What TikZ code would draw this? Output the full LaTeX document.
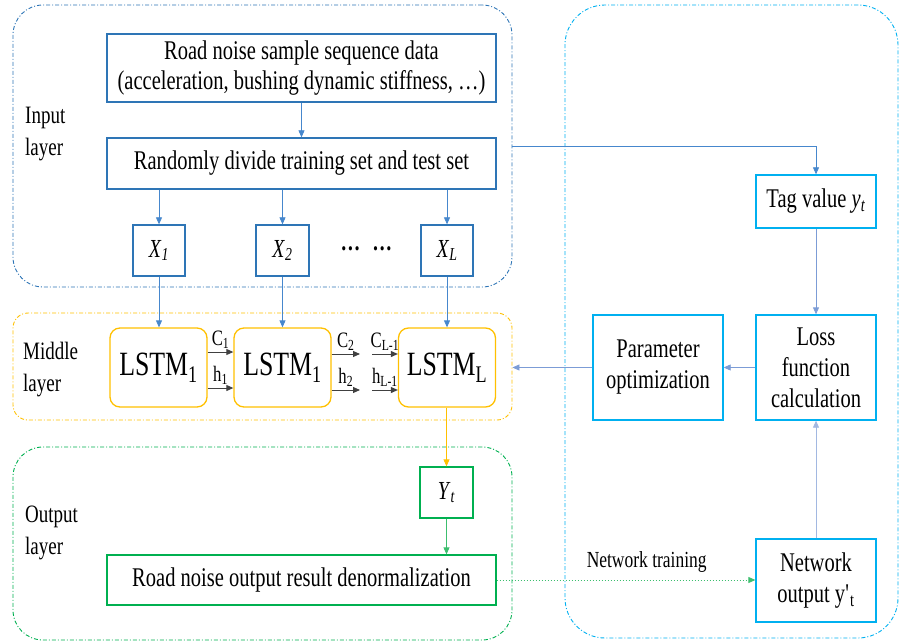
\documentclass[tikz,border=0pt]{standalone}
\usepackage{fontspec}
\setmainfont{Liberation Serif}[FakeStretch=0.76]
\usetikzlibrary{arrows.meta}

\definecolor{inblue}{RGB}{46,117,182}
\definecolor{arblue}{RGB}{70,135,205}
\definecolor{rtblue}{RGB}{68,114,196}
\definecolor{skyb}{RGB}{0,176,240}
\definecolor{amber}{RGB}{255,192,0}
\definecolor{leaf}{RGB}{0,176,80}
\definecolor{leaflt}{RGB}{60,190,110}

\newcommand\boxfont{\fontsize{27}{30}\selectfont}
\newcommand\lblfont{\fontsize{25}{32}\selectfont}

\tikzset{
  x=1pt, y=-1pt,
  tip/.style={-{Triangle[length=7pt,width=6pt]}},
  layerbox/.style={draw, rectangle, line width=0.9pt,
    dash pattern=on 4pt off 2pt on 1pt off 2pt},
  inbox/.style={draw=inblue, line width=1.3pt, rectangle, inner sep=0pt,
    align=center, font=\boxfont},
  cellbox/.style={draw=amber, line width=1.3pt, rectangle, rounded corners=10pt,
    inner sep=0pt, minimum width=97pt, minimum height=79pt,
    font=\fontsize{34}{36}\selectfont},
  outbox/.style={draw=leaf, line width=1.3pt, rectangle, inner sep=0pt,
    align=center, font=\boxfont},
  rtbox/.style={draw=skyb, line width=1.3pt, rectangle, inner sep=0pt,
    align=center, font=\fontsize{27}{31}\selectfont, minimum width=120pt},
  lbl/.style={align=left, anchor=west, font=\lblfont, inner sep=0pt},
  flow/.style={draw=arblue, line width=0.8pt, tip},
  state/.style={draw=black!75, line width=0.9pt, tip},
  small/.style={font=\fontsize{22}{24}\selectfont, inner sep=0pt},
}

\begin{document}
\begin{tikzpicture}
\useasboundingbox (0,0) rectangle (904,644);

% layer frames
\node[layerbox, draw=inblue, rounded corners=30pt, minimum width=499pt, minimum height=282pt] (inlayer) at (262.5,146) {};
\node[layerbox, draw=amber, rounded corners=15pt, minimum width=499pt, minimum height=107pt] (midlayer) at (262.5,366.5) {};
\node[layerbox, draw=leaf, rounded corners=30pt, minimum width=499pt, minimum height=193pt] (outlayer) at (262.5,543.5) {};
\node[layerbox, draw=skyb, rounded corners=40pt, minimum width=333pt, minimum height=633pt] (trainlayer) at (731.5,321.5) {};

% layer captions
\node[lbl] (inlbl) at (25,134) {Input\\layer};
\node[lbl] (midlbl) at (23,370) {Middle\\layer};
\node[lbl] (outlbl) at (25,533) {Output\\layer};

% input layer
\node[inbox, minimum width=389pt, minimum height=68pt] (road) at (301.5,68)
  {Road noise sample sequence data\\(acceleration, bushing dynamic stiffness, …)};
\node[inbox, minimum width=389pt, minimum height=51pt] (divide) at (301.5,163.5)
  {Randomly divide training set and test set};
\node[inbox, minimum width=52pt, minimum height=51pt, font=\fontsize{26}{28}\selectfont] (x1) at (159,250.5) {\textit{X}\textsubscript{\textit{1}}};
\node[inbox, minimum width=53pt, minimum height=51pt, font=\fontsize{26}{28}\selectfont] (x2) at (282.5,250.5) {\textit{X}\textsubscript{\textit{2}}};
\node[inbox, minimum width=52pt, minimum height=51pt, font=\fontsize{26}{28}\selectfont] (xl) at (447,250.5) {\textit{X}\textsubscript{\textit{L}}};
\node[font=\fontsize{26}{28}\selectfont\bfseries, inner sep=0pt] (dots) at (366.5,249) {…\hspace{12pt}…};

% middle layer
\node[cellbox] (c1) at (158.5,367.5) {LSTM\textsubscript{1}};
\node[cellbox] (c2) at (282.5,367.5) {LSTM\textsubscript{1}};
\node[cellbox] (cl) at (447,367.5) {LSTM\textsubscript{L}};

% output layer
\node[outbox, minimum width=53pt, minimum height=51pt, font=\fontsize{26}{28}\selectfont] (yt) at (446.5,492.5) {\textit{Y}\textsubscript{\textit{t}}};
\node[outbox, minimum width=389pt, minimum height=50pt] (denorm) at (301.5,580)
  {Road noise output result denormalization};

% training loop
\node[rtbox, minimum height=53pt] (tag) at (816,201.5) {Tag value \textit{y}\textsubscript{\textit{t}}};
\node[rtbox, minimum height=105pt] (loss) at (816,367.5) {Loss\\function\\calculation};
\node[rtbox, minimum width=130pt, minimum height=105pt] (param) at (658,367.5) {Parameter\\optimization};
\node[rtbox, minimum height=83pt] (netout) at (816,580.5) {Network\\output y\textquotesingle\textsubscript{t}};

% input-layer flow
\draw[flow] (road) -- (divide);
\foreach \n in {x1,x2,xl} {
  \draw[flow] (divide.south -| \n.north) -- (\n.north);
  \draw[flow] (\n.south) -- (\n.south |- c1.north);
}

% recurrent states (C above, h below)
\coordinate (c2out) at (360,0);
\coordinate (clin) at (372,0);
\draw[state] ([yshift=15.5pt]c1.east) -- ([yshift=15.5pt]c2.west) node[small, midway, above=3pt] (lc1) {C\textsubscript{1}};
\draw[state] ([yshift=-20.5pt]c1.east) -- ([yshift=-20.5pt]c2.west) node[small, midway, above=3pt] (lh1) {h\textsubscript{1}};
\draw[state] ([yshift=13.5pt]c2.east) -- ([yshift=13.5pt]c2.east -| c2out) node[small, midway, above=3pt] (lc2) {C\textsubscript{2}};
\draw[state] ([yshift=-22.5pt]c2.east) -- ([yshift=-22.5pt]c2.east -| c2out) node[small, midway, above=3pt] (lh2) {h\textsubscript{2}};
\draw[state] ([yshift=13.5pt]cl.west -| clin) -- ([yshift=13.5pt]cl.west) node[small, midway, above=3pt] (lcl) {C\textsubscript{L-1}};
\draw[state] ([yshift=-22.5pt]cl.west -| clin) -- ([yshift=-22.5pt]cl.west) node[small, midway, above=3pt] (lhl) {h\textsubscript{L-1}};

% output flow
\draw[draw=amber, line width=0.8pt, tip] (cl.south -| yt.north) -- (yt.north);
\draw[draw=leaflt, line width=0.8pt, tip] (yt.south) -- (yt.south |- denorm.north);

% training flow
\draw[flow] (inlayer.east) -| (tag.north);
\draw[draw=rtblue!70, line width=0.8pt, tip] (tag) -- (loss);
\draw[draw=rtblue!70, line width=0.8pt, tip] (loss) -- (param);
\draw[draw=rtblue!70, line width=0.8pt, tip] (param.west) -- (midlayer.east |- param.west);
\draw[draw=rtblue!50, line width=0.8pt, tip] (netout) -- (loss);
\draw[draw=leaflt, line width=0.8pt, dash pattern=on 1.5pt off 1.5pt, tip] (denorm.east) -- (netout.west |- denorm.east)
  node[small, font=\fontsize{23}{25}\selectfont, pos=0.58, above=7pt] (nettrain) {Network training};

\end{tikzpicture}
\end{document}
